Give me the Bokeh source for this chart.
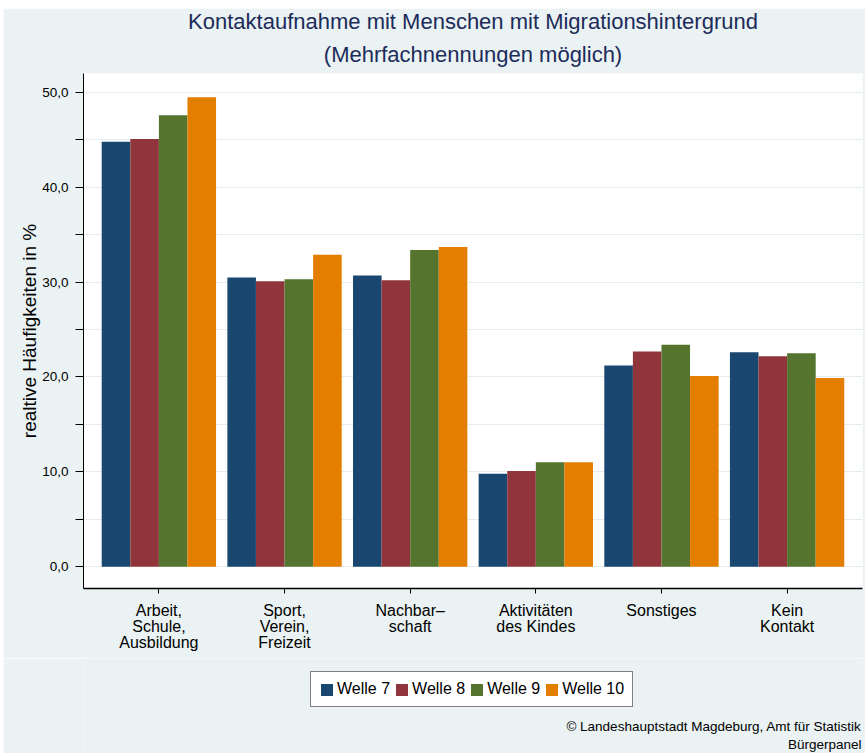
import numpy as np
from bokeh.plotting import figure
from bokeh.layouts import column
from bokeh.models import (FixedTicker, Range1d, Legend, LegendItem, Title, Label,
                          ColumnDataSource)
from bokeh.embed import file_html
from bokeh.resources import INLINE

# ---------------- data ----------------
categories = ["Arbeit,\nSchule,\nAusbildung", "Sport,\nVerein,\nFreizeit",
              "Nachbar\u2013\nschaft", "Aktivitäten\ndes Kindes",
              "Sonstiges", "Kein\nKontakt"]
series_names = ["Welle 7", "Welle 8", "Welle 9", "Welle 10"]
welle7 = [44.8, 30.5, 30.7, 9.8, 21.2, 22.6]
welle8 = [45.1, 30.1, 30.2, 10.1, 22.7, 22.2]
welle9 = [47.6, 30.3, 33.4, 11.0, 23.4, 22.5]
welle10 = [49.5, 32.9, 33.7, 11.0, 20.1, 19.9]
y_ticks = [0, 10, 20, 30, 40, 50]
y_minor_ticks = [5, 15, 25, 35, 45]
y_tick_labels = ["0,0", "10,0", "20,0", "30,0", "40,0", "50,0"]
colors = ["#1A476F", "#90353B", "#55752F", "#E37E00"]

title_line1 = "Kontaktaufnahme mit Menschen mit Migrationshintergrund"
title_line2 = "(Mehrfachnennungen möglich)"
y_label = "realtive Häufigkeiten in %"
credit1 = "© Landeshauptstadt Magdeburg, Amt für Statistik"
credit2 = "Bürgerpanel"

FONT = "Liberation Sans"
BG = "#EAF2F3"
TITLE_COLOR = "#1C2B5A"

series = [welle7, welle8, welle9, welle10]
n_cat = len(categories)
group_width = 0.91
bar_w = group_width / len(series)

W = 862
H_MAIN = 650
H_LEG = 95

# ---------------- main chart ----------------
p = figure(width=W, height=H_MAIN, output_backend="svg", toolbar_location=None,
           x_range=Range1d(-0.6, n_cat - 1 + 0.6), y_range=Range1d(-2.3, 52.0),
           min_border_left=80, min_border_right=3, min_border_top=64,
           min_border_bottom=70)
p.background_fill_color = "white"
p.border_fill_color = BG
p.outline_line_color = None

xs_base = np.arange(n_cat)
for j, vals in enumerate(series):
    offset = (j - (len(series) - 1) / 2) * bar_w
    src = ColumnDataSource(dict(x=xs_base + offset, top=vals))
    p.vbar(x="x", top="top", bottom=0, width=bar_w, source=src,
           fill_color=colors[j], line_color=None)

# y axis
p.yaxis.ticker = FixedTicker(ticks=y_ticks, minor_ticks=y_minor_ticks)
p.yaxis.major_label_overrides = {t: l for t, l in zip(y_ticks, y_tick_labels)}
p.yaxis.major_label_text_font = FONT
p.yaxis.major_label_text_font_size = "13.5px"
p.yaxis.major_label_text_color = "black"
p.yaxis.major_tick_out = 8
p.yaxis.major_tick_in = 0
p.yaxis.minor_tick_out = 8
p.yaxis.minor_tick_in = 0
p.yaxis.major_label_standoff = 7
p.yaxis.axis_line_color = "black"
p.yaxis.major_tick_line_color = "black"
p.yaxis.minor_tick_line_color = "black"
p.yaxis.axis_label = y_label
p.yaxis.axis_label_text_font = FONT
p.yaxis.axis_label_text_font_size = "19px"
p.yaxis.axis_label_text_font_style = "normal"
p.yaxis.axis_label_text_color = "black"
p.yaxis.axis_label_standoff = -1

# x axis
p.xaxis.ticker = FixedTicker(ticks=list(range(n_cat)), minor_ticks=[])
p.xaxis.major_label_overrides = {i: c for i, c in enumerate(categories)}
p.xaxis.major_label_text_font = FONT
p.xaxis.major_label_text_font_size = "16px"
p.xaxis.major_label_text_color = "black"
p.xaxis.major_label_text_line_height = 0.97
p.xaxis.major_tick_out = 5
p.xaxis.major_tick_in = 0
p.xaxis.major_label_standoff = 8
p.xaxis.axis_line_color = "black"
p.xaxis.axis_line_width = 1.5
p.xaxis.major_tick_line_color = "black"

# grid
p.xgrid.grid_line_color = None
p.ygrid.ticker = FixedTicker(ticks=y_ticks, minor_ticks=y_minor_ticks)
p.ygrid.grid_line_color = "#E3ECEE"
p.ygrid.minor_grid_line_color = "#E3ECEE"

# titles (above) - nearest to the plot first
p.add_layout(Title(text=title_line2, align="center", text_font=FONT, text_font_size="22px",
                   text_font_style="normal", text_color=TITLE_COLOR, standoff=14), "above")
p.add_layout(Title(text=title_line1, align="center", text_font=FONT, text_font_size="22px",
                   text_font_style="normal", text_color=TITLE_COLOR, standoff=-3), "above")

# ---------------- legend + credits strip ----------------
q = figure(width=W, height=H_LEG, output_backend="svg", toolbar_location=None,
           x_range=Range1d(0, W), y_range=Range1d(0, H_LEG),
           x_axis_type=None, y_axis_type=None,
           min_border_left=80, min_border_right=3, min_border_top=0, min_border_bottom=0)
q.background_fill_color = BG
q.border_fill_color = BG
q.outline_line_color = None
q.grid.visible = False

swatches = []
for j, name in enumerate(series_names):
    r = q.vbar(x=[np.nan], top=[np.nan], width=1, fill_color=colors[j], line_color=None)
    swatches.append(LegendItem(label=name, renderers=[r]))

legend = Legend(items=swatches, orientation="horizontal", location=(227, 46),
                border_line_color="black", border_line_width=1,
                background_fill_color="white", background_fill_alpha=1.0,
                label_text_font=FONT, label_text_font_size="16px", label_text_color="black",
                glyph_width=15, glyph_height=15, label_standoff=3, spacing=4,
                padding=8, margin=0, label_height=16)
q.add_layout(legend, "center")

q.add_layout(Label(x=778, y=27, x_units="screen", y_units="screen", text=credit1,
                   text_align="right", text_baseline="alphabetic", text_font=FONT,
                   text_font_size="13.5px", text_color="black"))
q.add_layout(Label(x=778, y=9, x_units="screen", y_units="screen", text=credit2,
                   text_align="right", text_baseline="alphabetic", text_font=FONT,
                   text_font_size="13.5px", text_color="black"))

layout = column(p, q, spacing=0, margin=(8, 0, 0, 3))
open("out.html", "w").write(file_html(layout, INLINE))
